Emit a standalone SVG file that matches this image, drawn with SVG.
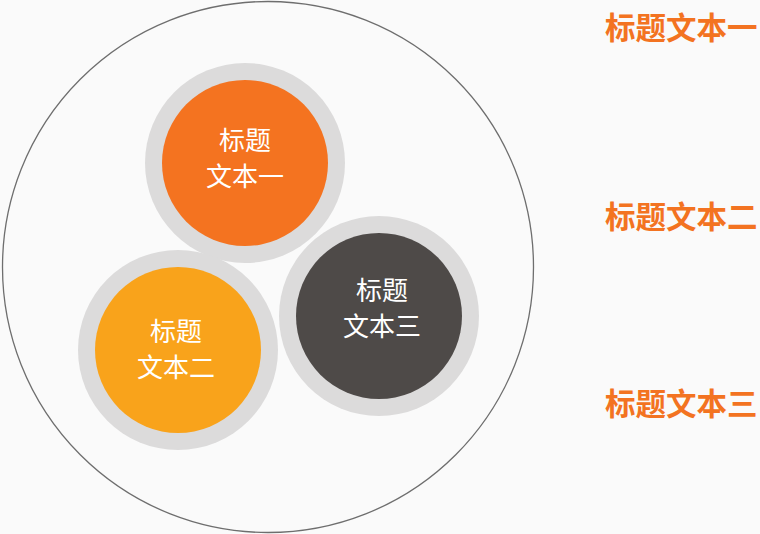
<svg xmlns="http://www.w3.org/2000/svg" width="760" height="534" viewBox="0 0 760 534">
<style>
.ring{fill:#dcdbdb}
.t{font-family:"Noto Sans CJK SC","Noto Sans",sans-serif;font-size:26px;fill:#ffffff;text-anchor:middle}
.lbl{font-family:"Noto Sans CJK SC","Noto Sans",sans-serif;font-size:30.5px;font-weight:bold;fill:#f37321}
</style>
<rect width="760" height="534" fill="#fafafa"/>
<g id="outer">
<circle cx="268" cy="267" r="265.5" fill="none" stroke="#6e6e6e" stroke-width="1.3"/>
</g>
<g id="node1">
<circle class="ring" cx="245" cy="163" r="100"/>
<circle cx="245" cy="163" r="83" fill="#f47320"/>
<text class="t"><tspan x="245" y="150">标题</tspan><tspan x="245" y="186">文本一</tspan></text>
</g>
<g id="node2">
<circle class="ring" cx="178" cy="350" r="100"/>
<circle cx="178" cy="350" r="83" fill="#f9a31b"/>
<text class="t"><tspan x="176" y="341">标题</tspan><tspan x="176" y="377">文本二</tspan></text>
</g>
<g id="node3">
<circle class="ring" cx="379" cy="316" r="100"/>
<circle cx="379" cy="316" r="83" fill="#4e4a48"/>
<text class="t"><tspan x="382" y="300">标题</tspan><tspan x="382" y="336">文本三</tspan></text>
</g>
<g id="connectors"></g>
<g id="labels">
<text class="lbl" x="605" y="39">标题文本一</text>
<text class="lbl" x="605" y="228">标题文本二</text>
<text class="lbl" x="605" y="415">标题文本三</text>
</g>
</svg>
